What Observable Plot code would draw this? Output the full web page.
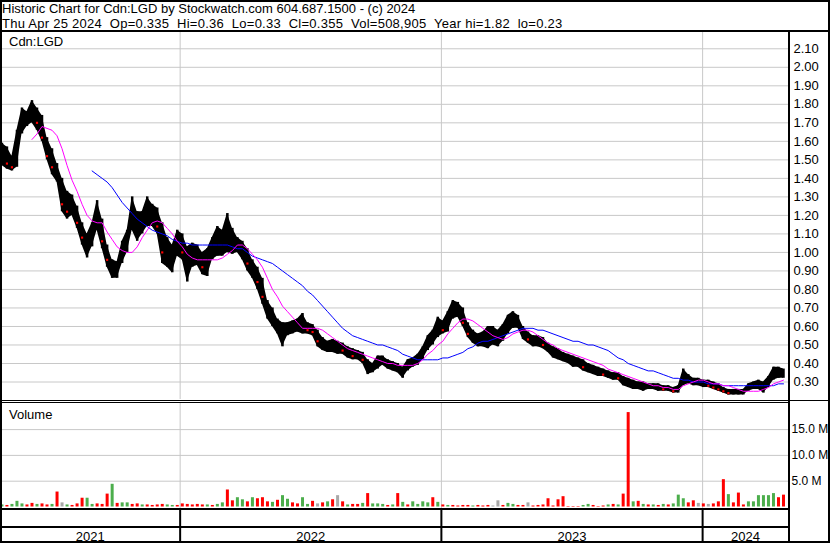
<!DOCTYPE html>
<html>
<head>
<meta charset="utf-8">
<script src="https://cdn.jsdelivr.net/npm/d3@7"></script>
<script src="https://cdn.jsdelivr.net/npm/@observablehq/plot@0.6"></script>
<style>
  html, body { margin: 0; padding: 0; background: #fff; }
  #chart { position: relative; width: 830px; height: 543px; overflow: hidden; background: #fff;
           font-family: "Liberation Sans", Arial, sans-serif; color: #000; }
  .txt { position: absolute; white-space: pre; font-size: 13px; line-height: 15px; }
  .hl { position: absolute; background: #000; }
</style>
</head>
<body>
<div id="chart"></div>
<script>
// ---------- DATA (weekly) ----------
const titleLine1 = "Historic Chart for Cdn:LGD by Stockwatch.com 604.687.1500 - (c) 2024";
const titleLine2 = "Thu Apr 25 2024  Op=0.335  Hi=0.36  Lo=0.33  Cl=0.355  Vol=508,905  Year hi=1.82  lo=0.23";
const symbolLabel = "Cdn:LGD";
const volumeLabel = "Volume";

const firstWeek = "2021-04-27";           // first weekly bar
const xStart = "2021-04-25", xEnd = "2024-04-30";

const yearLabels = ["2021", "2022", "2023", "2024"];
const yearStarts = ["2022-01-01", "2023-01-01", "2024-01-01"];

const priceTicks = [0.30,0.40,0.50,0.60,0.70,0.80,0.90,1.00,1.10,1.20,1.30,1.40,1.50,1.60,1.70,1.80,1.90,2.00,2.10];
const volumeTicks = [5, 10, 15];

const highs = [
  1.59,1.57,1.52,1.66,1.78,1.76,1.82,1.78,1.74,1.62,
  1.56,1.48,1.40,1.33,1.31,1.25,1.16,1.10,1.16,1.28,
  1.18,1.04,0.96,0.95,1.06,1.12,1.30,1.22,1.22,1.30,
  1.26,1.24,1.16,1.08,1.04,1.12,1.10,1.03,1.05,1.04,
  1.00,1.02,1.08,1.14,1.12,1.21,1.13,1.08,1.06,1.02,
  0.96,0.92,0.86,0.74,0.70,0.64,0.62,0.62,0.63,0.64,
  0.67,0.62,0.61,0.58,0.54,0.52,0.53,0.52,0.51,0.49,
  0.48,0.47,0.46,0.42,0.40,0.44,0.44,0.42,0.41,0.40,
  0.38,0.42,0.43,0.45,0.49,0.55,0.58,0.65,0.63,0.68,
  0.74,0.73,0.70,0.62,0.58,0.56,0.57,0.60,0.60,0.58,
  0.61,0.66,0.68,0.66,0.60,0.57,0.55,0.55,0.54,0.51,
  0.49,0.48,0.46,0.45,0.44,0.43,0.42,0.40,0.39,0.38,
  0.37,0.36,0.35,0.35,0.33,0.32,0.31,0.30,0.30,0.29,
  0.29,0.29,0.28,0.28,0.27,0.28,0.37,0.34,0.32,0.32,
  0.31,0.31,0.30,0.29,0.27,0.26,0.26,0.26,0.26,0.29,
  0.30,0.31,0.30,0.33,0.38,0.38,0.37
];
const lows = [
  1.47,1.45,1.44,1.46,1.64,1.68,1.70,1.66,1.60,1.50,
  1.42,1.38,1.22,1.18,1.20,1.13,1.04,0.97,1.03,1.12,
  1.02,0.92,0.86,0.86,0.94,1.00,1.12,1.06,1.10,1.14,
  1.14,1.10,0.94,0.92,0.89,0.98,0.96,0.84,0.92,0.93,
  0.88,0.87,0.96,0.98,0.98,1.00,0.99,1.00,0.96,0.90,
  0.86,0.80,0.72,0.64,0.60,0.56,0.49,0.55,0.56,0.57,
  0.56,0.56,0.55,0.49,0.47,0.46,0.46,0.45,0.45,0.43,
  0.42,0.42,0.40,0.34,0.35,0.37,0.39,0.37,0.36,0.35,
  0.32,0.36,0.38,0.39,0.42,0.47,0.50,0.54,0.56,0.57,
  0.64,0.65,0.60,0.54,0.51,0.49,0.49,0.48,0.50,0.49,
  0.52,0.56,0.59,0.59,0.53,0.51,0.49,0.49,0.48,0.46,
  0.43,0.42,0.41,0.40,0.38,0.38,0.36,0.35,0.34,0.33,
  0.33,0.32,0.31,0.31,0.28,0.27,0.26,0.26,0.25,0.26,
  0.26,0.25,0.25,0.25,0.24,0.24,0.28,0.29,0.28,0.28,
  0.27,0.27,0.26,0.25,0.24,0.23,0.23,0.23,0.23,0.25,
  0.26,0.26,0.24,0.27,0.31,0.32,0.32
];
const closes = [
  1.50,1.48,1.46,1.62,1.74,1.72,1.74,1.70,1.62,1.52,
  1.46,1.42,1.26,1.22,1.24,1.16,1.08,1.02,1.12,1.20,
  1.06,0.96,0.90,0.92,1.02,1.08,1.22,1.12,1.18,1.22,
  1.20,1.14,1.00,0.98,0.96,1.06,1.00,0.92,1.00,0.98,
  0.92,0.96,1.04,1.06,1.08,1.10,1.04,1.04,1.00,0.94,
  0.90,0.84,0.76,0.68,0.64,0.60,0.56,0.58,0.60,0.60,
  0.60,0.58,0.57,0.52,0.50,0.49,0.50,0.48,0.47,0.46,
  0.44,0.45,0.42,0.38,0.37,0.42,0.41,0.40,0.38,0.37,
  0.36,0.40,0.41,0.42,0.46,0.52,0.55,0.60,0.58,0.64,
  0.70,0.68,0.62,0.56,0.54,0.52,0.53,0.55,0.54,0.53,
  0.57,0.62,0.63,0.62,0.56,0.53,0.52,0.52,0.50,0.48,
  0.46,0.45,0.43,0.42,0.41,0.40,0.38,0.37,0.36,0.35,
  0.34,0.34,0.33,0.32,0.30,0.29,0.28,0.28,0.27,0.27,
  0.28,0.27,0.26,0.26,0.25,0.26,0.32,0.31,0.30,0.30,
  0.29,0.28,0.27,0.26,0.25,0.24,0.24,0.24,0.25,0.27,
  0.28,0.29,0.28,0.31,0.35,0.35,0.355
];
// volume in millions of shares (largest session of the week)
const volumes = [
  0.4,0.3,0.5,1.1,0.6,0.4,0.7,0.5,0.6,0.4,
  0.5,2.9,0.8,0.4,0.3,0.6,1.7,1.7,0.5,0.6,
  0.5,2.5,4.4,0.7,0.8,0.8,0.5,0.6,0.4,0.4,
  0.3,0.4,0.5,0.4,0.3,0.3,0.6,0.5,0.4,0.5,
  0.4,0.4,0.3,0.5,0.8,3.3,1.2,1.8,1.4,1.0,
  1.8,1.6,1.8,1.0,0.9,1.3,2.2,1.5,0.8,0.6,
  1.8,0.5,1.1,0.6,0.8,1.0,1.4,2.2,1.0,0.4,
  0.5,0.5,0.7,2.6,0.6,0.6,0.5,0.3,0.4,2.6,
  0.9,0.4,1.0,0.5,1.0,0.8,1.8,0.9,0.4,0.3,
  0.3,0.2,0.3,0.3,0.2,0.3,0.2,0.3,0.2,1.2,
  0.3,0.7,0.5,0.3,0.3,0.8,0.2,0.3,0.4,1.6,
  0.2,1.4,2.0,0.1,0.1,0.1,0.3,0.5,0.3,0.1,
  0.2,0.4,0.5,0.4,2.5,18.3,1.0,1.1,0.5,0.4,
  0.4,0.3,0.5,0.4,0.6,2.3,1.6,0.8,1.2,0.7,
  0.6,0.5,0.6,1.0,5.3,2.4,0.8,2.7,0.4,1.0,
  1.0,2.2,2.2,2.2,2.6,1.8,2.3
];
// u = up (green), d = down (red), n = unchanged (grey)
const volumeDir = (
  "uduuuddudd" + "udnuddduud" + "dduduuddud" + "ddduuddddd" + "duduudduud" +
  "uddduduudd" + "uudndudndu" + "dduduuudud" + "uduuuududu" + "ddddudddnn" +
  "duuddndddd" + "dddddduudd" + "dududdudud" + "ududuuuddn" + "dndddudddu" +
  "uuuuudd").split("");

// short moving average (magenta), first value at week 6
const maShortStart = 6;
const maShort = [
  1.61,1.64,1.68,1.67,1.66,1.63,1.56,1.47,1.39,1.33,
  1.26,1.20,1.17,1.16,1.16,1.11,1.07,1.03,1.01,1.00,
  1.00,1.03,1.08,1.12,1.16,1.17,1.16,1.13,1.10,1.06,
  1.03,0.99,0.97,0.96,0.96,0.96,0.96,0.96,0.97,0.99,
  1.01,1.04,1.04,1.02,0.99,0.96,0.92,0.86,0.80,0.76,
  0.71,0.68,0.65,0.62,0.59,0.59,0.59,0.59,0.58,0.56,
  0.54,0.52,0.50,0.48,0.47,0.46,0.45,0.44,0.43,0.42,
  0.41,0.40,0.40,0.39,0.39,0.39,0.39,0.40,0.42,0.45,
  0.47,0.50,0.52,0.56,0.59,0.62,0.64,0.64,0.63,0.61,
  0.59,0.57,0.55,0.54,0.53,0.54,0.56,0.57,0.58,0.58,
  0.57,0.55,0.53,0.51,0.50,0.48,0.47,0.46,0.45,0.44,
  0.43,0.42,0.41,0.40,0.39,0.37,0.36,0.35,0.34,0.33,
  0.32,0.31,0.30,0.29,0.28,0.28,0.27,0.27,0.26,0.26,
  0.28,0.29,0.30,0.31,0.31,0.30,0.29,0.29,0.28,0.28,
  0.27,0.26,0.25,0.25,0.25,0.25,0.26,0.27,0.29,0.30,
  0.31
];
// long moving average (blue), first value at week 18
const maLongStart = 18;
const maLong = [
  1.44,1.42,1.40,1.38,1.35,1.31,1.27,1.24,1.21,1.18,
  1.16,1.14,1.12,1.11,1.10,1.09,1.07,1.06,1.05,1.05,
  1.04,1.04,1.04,1.04,1.04,1.04,1.04,1.04,1.03,1.02,
  1.02,1.00,0.98,0.97,0.96,0.95,0.94,0.92,0.90,0.88,
  0.86,0.84,0.82,0.79,0.77,0.74,0.71,0.68,0.65,0.62,
  0.59,0.57,0.55,0.54,0.53,0.52,0.51,0.50,0.50,0.49,
  0.48,0.47,0.45,0.44,0.43,0.42,0.42,0.42,0.42,0.42,
  0.43,0.43,0.44,0.45,0.46,0.48,0.49,0.51,0.52,0.52,
  0.53,0.54,0.55,0.56,0.57,0.58,0.59,0.59,0.59,0.58,
  0.58,0.57,0.56,0.55,0.54,0.53,0.52,0.52,0.51,0.50,
  0.50,0.49,0.48,0.47,0.45,0.43,0.42,0.40,0.39,0.38,
  0.37,0.36,0.36,0.35,0.34,0.33,0.32,0.32,0.31,0.31,
  0.30,0.30,0.30,0.29,0.29,0.29,0.28,0.28,0.28,0.28,
  0.28,0.28,0.28,0.28,0.28,0.28,0.28,0.29,0.29
];

// ---------- BUILD ----------
const t0 = new Date(firstWeek);
const weekDate = i => d3.utcDay.offset(t0, 7 * i);
const weeks = highs.map((h, i) => ({
  date: weekDate(i), high: h, low: lows[i], close: closes[i],
  vol: volumes[i], dir: volumeDir[i]
}));
// red close ticks: down weeks that closed near their low
const redCloses = weeks.filter((d, i) => i > 0 && d.close < weeks[i - 1].close &&
  (d.close - d.low) <= 0.35 * (d.high - d.low));
const shortLine = maShort.map((v, k) => ({date: weekDate(maShortStart + k), v}));
const longLine = maLong.map((v, k) => ({date: weekDate(maLongStart + k), v}));
const dirColor = {u: "#4cae4c", d: "#ff0000", n: "#a8a8a8"};

const xDomain = [new Date(xStart), new Date(xEnd)];
const yStarts = yearStarts.map(s => new Date(s));
const bounds = [xDomain[0], ...yStarts, xDomain[1]];
const yearMids = yearLabels.map((t, i) => ({t, date: new Date((+bounds[i] + +bounds[i + 1]) / 2)}));

const W = 830, MR = 42;
const font = {fontFamily: "'Liberation Sans', Arial, sans-serif", fontSize: "13px", color: "#000", background: "none", overflow: "visible"};
const grid = "#c8c8c8";
const chart = document.getElementById("chart");

function place(el, top) {
  el.style.position = "absolute"; el.style.left = "0px"; el.style.top = top + "px";
  chart.appendChild(el);
}

// price panel
const pricePlot = Plot.plot({
  width: W, height: 367, marginLeft: 0, marginRight: MR, marginTop: 0, marginBottom: 0,
  style: font,
  x: {type: "utc", domain: xDomain, axis: null},
  y: {domain: [0.2055, 2.188], axis: null},
  marks: [
    Plot.ruleY(priceTicks, {stroke: grid}),
    Plot.ruleX(yStarts, {stroke: grid}),
    Plot.axisY(priceTicks, {anchor: "right", tickSize: 0, tickPadding: 5, label: null,
      tickFormat: d => d.toFixed(2), fill: "#000"}),
    Plot.areaY(weeks, {x: "date", y1: "low", y2: "high", fill: "#000", curve: "linear"}),
    Plot.ruleX(weeks, {x: "date", y1: "low", y2: "high", stroke: "#000", strokeWidth: 2.5}),
    Plot.dot(redCloses, {x: "date", y: "close", symbol: "square", r: 1.2, fill: "#ff0000"}),
    Plot.line(longLine, {x: "date", y: "v", stroke: "#0000ff", strokeWidth: 1}),
    Plot.line(shortLine, {x: "date", y: "v", stroke: "#ff00ff", strokeWidth: 1})
  ]
});
place(pricePlot, 32);

// volume panel
const volPlot = Plot.plot({
  width: W, height: 106, marginLeft: 0, marginRight: MR, marginTop: 0, marginBottom: 0,
  style: font,
  color: {type: "identity"},
  x: {type: "utc", domain: xDomain, axis: null},
  y: {domain: [0, 20], range: [103.5, 0.3], axis: null},
  marks: [
    Plot.ruleY(volumeTicks, {stroke: grid}),
    Plot.ruleX(yStarts, {stroke: grid}),
    Plot.axisY(volumeTicks, {anchor: "right", tickSize: 0, tickPadding: 3, label: null,
      tickFormat: d => d.toFixed(1) + " M", fill: "#000", fontSize: 12}),
    Plot.ruleX(weeks, {x: "date", y1: 0, y2: "vol", stroke: d => dirColor[d.dir], strokeWidth: 3})
  ]
});
place(volPlot, 403);

// year band
const yearPlot = Plot.plot({
  width: W, height: 31, marginLeft: 0, marginRight: MR, marginTop: 0, marginBottom: 0,
  style: font,
  x: {type: "utc", domain: xDomain, axis: null},
  marks: [
    Plot.ruleX(yStarts, {stroke: "#000", strokeWidth: 2}),
    Plot.text(yearMids, {x: "date", text: "t", frameAnchor: "bottom", lineAnchor: "bottom", dy: -1, fill: "#000"})
  ]
});
place(yearPlot, 510);

// texts
function addText(str, left, top) {
  const d = document.createElement("div");
  d.className = "txt"; d.textContent = str;
  d.style.left = left + "px"; d.style.top = top + "px";
  chart.appendChild(d);
  return d;
}
addText(titleLine1, 2, 1);
addText(titleLine2, 2, 16.2).style.letterSpacing = "0.26px";
addText(symbolLabel, 9, 34);
addText(volumeLabel, 9, 406.5);

// frame lines
function hline(top, left, width, h) {
  const d = document.createElement("div");
  d.className = "hl";
  Object.assign(d.style, {top: top + "px", left: left + "px", width: width + "px", height: h + "px"});
  chart.appendChild(d);
}
hline(30, 0, 830, 2);     // header separator
hline(400, 0, 830, 1);    // panel separator (double)
hline(402, 0, 788, 1);
hline(508, 0, 788, 2);    // below volume
hline(526, 0, 788, 2);    // above year labels
hline(30, 788, 2, 513);   // axis separator
const border = document.createElement("div");
Object.assign(border.style, {position: "absolute", left: "0", top: "0", width: "830px", height: "543px",
  border: "2px solid #000", boxSizing: "border-box"});
chart.appendChild(border);
</script>
</body>
</html>
